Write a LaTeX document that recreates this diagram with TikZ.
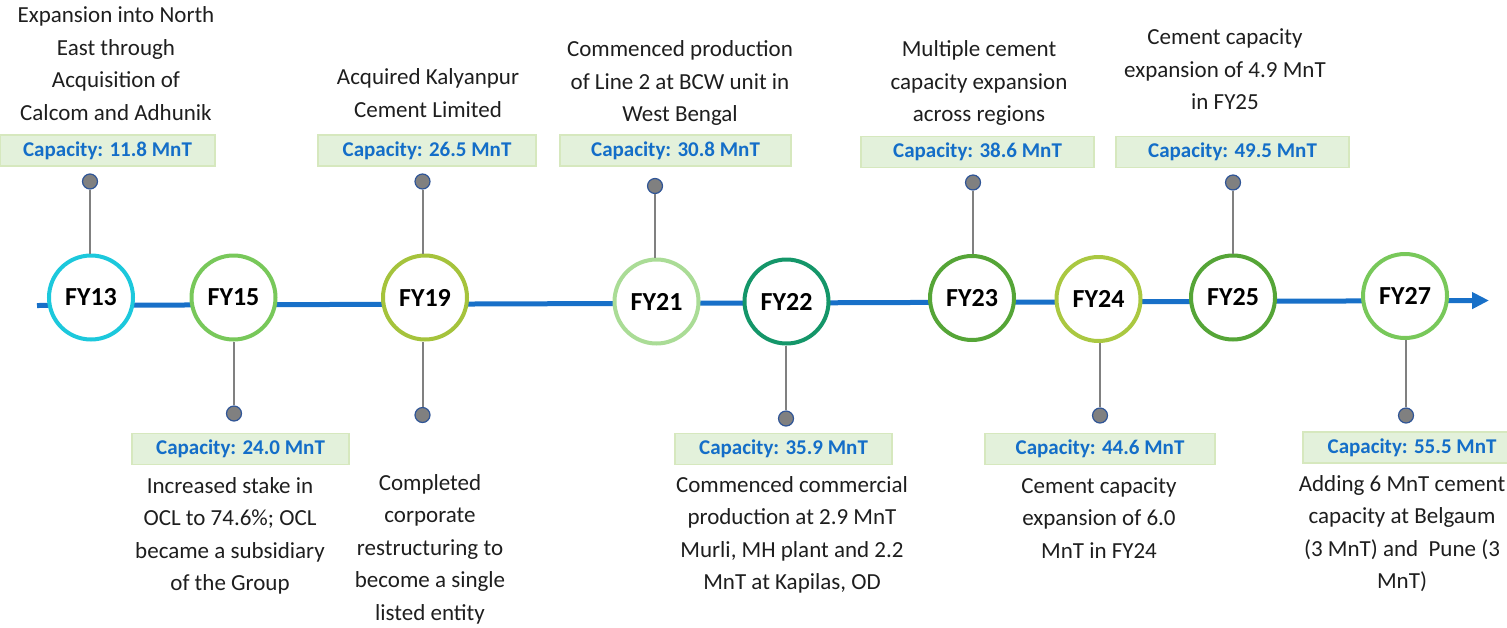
\documentclass[tikz,border=0pt]{standalone}
\usepackage{fontspec}
\setmainfont{Carlito}
\usepackage{xcolor}
\usepackage{tikz}
\usetikzlibrary{arrows.meta}

\definecolor{lineblue}{RGB}{24,112,200}
\definecolor{capblue}{RGB}{20,110,200}
\definecolor{capfill}{RGB}{227,241,219}
\definecolor{capedge}{RGB}{214,232,190}
\definecolor{dotgray}{RGB}{128,128,128}
\definecolor{dotedge}{RGB}{47,85,151}
\definecolor{stemgray}{RGB}{128,128,128}
\definecolor{txtgray}{RGB}{30,30,30}

\begin{document}
\begin{tikzpicture}[x=0.5pt,y=0.5pt,yscale=-1,xscale=1,
  yearnode/.style={circle,draw,fill=white,line width=2pt,minimum size=42pt,inner sep=0pt,font=\fontsize{13}{15}\selectfont\bfseries},
  capbox/.style={rectangle,fill=capfill,draw=capedge,line width=0.6pt,minimum height=15.5pt,inner sep=0pt,text=capblue,font=\fontsize{10.5}{12}\selectfont\bfseries},
  pin/.style={circle,fill=dotgray,draw=dotedge,line width=0.6pt,minimum size=7.5pt,inner sep=0pt},
  stem/.style={draw=stemgray,line width=1pt},
  note/.style={align=center,text=txtgray,inner sep=0pt,font=\fontsize{11.5}{16.25}\selectfont}]
\useasboundingbox (0,0) rectangle (1507,627);

%Timeline arrow
\coordinate (start) at (37,305.5);
\coordinate (finish) at (1489,300.5);
\draw [draw=lineblue,line width=2.5pt,-{Triangle[length=8.5pt,width=8pt]}] (start) -- (finish);

%Pins
\node (d13) at (90,181.5) [pin] {};
\node (d15) at (234,413.5) [pin] {};
\node (d19) at (422.5,181.5) [pin] {};
\node (e19) at (422.5,415) [pin] {};
\node (d21) at (655,186) [pin] {};
\node (d22) at (786,418.5) [pin] {};
\node (d23) at (973,182.5) [pin] {};
\node (d24) at (1100,415.5) [pin] {};
\node (d25) at (1233,182.5) [pin] {};
\node (d27) at (1406,415.5) [pin] {};

%Shape: Circle
\node (y13) at (91,297.5) [yearnode,draw={rgb,255:red,28;green,200;blue,220}] {FY13};
\node (y15) at (233.5,297.5) [yearnode,draw={rgb,255:red,120;green,200;blue,90}] {FY15};
\node (y19) at (425,297.5) [yearnode,draw={rgb,255:red,165;green,195;blue,60}] {FY19};
\node (y21) at (656.5,301.5) [yearnode,draw={rgb,255:red,170;green,220;blue,150}] {FY21};
\node (y22) at (786.5,301.5) [yearnode,draw={rgb,255:red,20;green,150;blue,105}] {FY22};
\node (y23) at (972,298) [yearnode,draw={rgb,255:red,85;green,165;blue,55}] {FY23};
\node (y24) at (1098.5,299) [yearnode,draw={rgb,255:red,170;green,200;blue,65}] {FY24};
\node (y25) at (1233,297.5) [yearnode,draw={rgb,255:red,85;green,165;blue,55}] {FY25};
\node (y27) at (1405,296) [yearnode,draw={rgb,255:red,120;green,200;blue,90}] {FY27};

%Stems
\draw [stem] (d13) -- (d13 |- y13.north);
\draw [stem] (d15) -- (d15 |- y15.south);
\draw [stem] (d19) -- (d19 |- y19.north);
\draw [stem] (e19) -- (e19 |- y19.south);
\draw [stem] (d21) -- (d21 |- y21.north);
\draw [stem] (d22) -- (d22 |- y22.south);
\draw [stem] (d23) -- (d23 |- y23.north);
\draw [stem] (d24) -- (d24 |- y24.south);
\draw [stem] (d25) -- (d25 |- y25.north);
\draw [stem] (d27) -- (d27 |- y27.south);

%Capacity boxes
\node (c13) at (107.5,150.5) [capbox,minimum width=107.5pt] {Capacity: 11.8 MnT};
\node (c19) at (427,150.5) [capbox,minimum width=109pt] {Capacity: 26.5 MnT};
\node (c21) at (675.5,150.5) [capbox,minimum width=115.5pt] {Capacity: 30.8 MnT};
\node (c23) at (977.5,152) [capbox,minimum width=116.5pt] {Capacity: 38.6 MnT};
\node (c25) at (1232.5,152) [capbox,minimum width=116.5pt] {Capacity: 49.5 MnT};
\node (c15) at (240.5,449) [capbox,minimum width=108.5pt] {Capacity: 24.0 MnT};
\node (c22) at (783.5,449) [capbox,minimum width=108.5pt] {Capacity: 35.9 MnT};
\node (c24) at (1100,449) [capbox,minimum width=115pt] {Capacity: 44.6 MnT};
\node (c27) at (1412,447.5) [capbox,minimum width=109pt] {Capacity: 55.5 MnT};

% Text Node
\node (t13) at (116,63.5) [note] {Expansion into North\\East through\\Acquisition of\\Calcom and Adhunik};
% Text Node
\node (t19) at (428,93) [note] {Acquired Kalyanpur\\Cement Limited};
% Text Node
\node (t21) at (680,83) [note] {Commenced production\\of Line 2 at BCW unit in\\West Bengal};
% Text Node
\node (t23) at (979,83) [note] {Multiple cement\\capacity expansion\\across regions};
% Text Node
\node (t25) at (1225,69.5) [note] {Cement capacity\\expansion of 4.9 MnT\\in FY25};
% Text Node
\node (t15) at (230,536) [note] {Increased stake in\\OCL to 74.6\%; OCL\\became a subsidiary\\of the Group};
% Text Node
\node (s19) at (430,549) [note] {Completed\\corporate\\restructuring to\\become a single\\listed entity};
% Text Node
\node (t22) at (792,535) [note] {Commenced commercial\\production at 2.9 MnT\\Murli, MH plant and 2.2\\MnT at Kapilas, OD};
% Text Node
\node (t24) at (1099,518) [note] {Cement capacity\\expansion of 6.0\\MnT in FY24};
% Text Node
\node (t27) at (1402,533.5) [note] {Adding 6 MnT cement\\capacity at Belgaum\\(3 MnT) and\ \ Pune (3\\MnT)};

\end{tikzpicture}
\end{document}
